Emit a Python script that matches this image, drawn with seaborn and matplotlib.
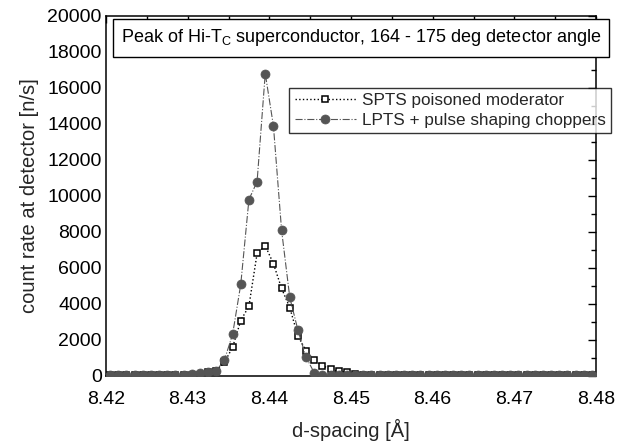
import matplotlib
matplotlib.use("Agg")
import matplotlib.pyplot as plt
import seaborn as sns
import pandas as pd
from matplotlib.ticker import MultipleLocator

# ---- data ----
d_spacing = [8.4205, 8.4215, 8.4225, 8.4235, 8.4245, 8.4255, 8.4265, 8.4275, 8.4285, 8.4295,
             8.4305, 8.4315, 8.4325, 8.4335, 8.4345, 8.4355, 8.4365, 8.4375, 8.4385, 8.4395,
             8.4405, 8.4415, 8.4425, 8.4435, 8.4445, 8.4455, 8.4465, 8.4475, 8.4485, 8.4495,
             8.4505, 8.4515, 8.4525, 8.4535, 8.4545, 8.4555, 8.4565, 8.4575, 8.4585, 8.4595,
             8.4605, 8.4615, 8.4625, 8.4635, 8.4645, 8.4655, 8.4665, 8.4675, 8.4685, 8.4695,
             8.4705, 8.4715, 8.4725, 8.4735, 8.4745, 8.4755, 8.4765, 8.4775, 8.4785, 8.4795]

spts = [30, 30, 30, 30, 30, 30, 30, 30, 30, 30,
        30, 80, 220, 280, 760, 1590, 3080, 3880, 6810, 7240,
        6240, 4870, 3800, 2220, 1400, 870, 580, 370, 260, 220,
        120, 30, 30, 30, 30, 30, 30, 30, 30, 30,
        30, 30, 30, 30, 30, 30, 30, 30, 30, 30,
        30, 30, 30, 30, 30, 30, 30, 30, 30, 30]

lpts = [60, 60, 60, 60, 60, 60, 60, 60, 60, 60,
        110, 150, 220, 290, 890, 2310, 5090, 9800, 10800, 16800,
        13900, 8100, 4370, 2550, 1040, 180, 60, 60, 60, 60,
        60, 60, 60, 60, 60, 60, 60, 60, 60, 60,
        60, 60, 60, 60, 60, 60, 60, 60, 60, 60,
        60, 60, 60, 60, 60, 60, 60, 60, 60, 60]

label_spts = "SPTS poisoned moderator"
label_lpts = "LPTS + pulse shaping choppers"
title_text = "Peak of Hi-T$_\\mathrm{C}$ superconductor, 164 - 175 deg detector angle"
xlabel = "d-spacing [Å]"
ylabel = "count rate at detector [n/s]"
xticks = [8.42, 8.43, 8.44, 8.45, 8.46, 8.47, 8.48]
yticks = [0, 2000, 4000, 6000, 8000, 10000, 12000, 14000, 16000, 18000, 20000]

df = pd.DataFrame({"d": d_spacing, "spts": spts, "lpts": lpts})

sns.set_theme(style="white")
plt.rcParams["font.family"] = ["Liberation Sans", "DejaVu Sans"]
plt.rcParams["mathtext.fontset"] = "custom"
plt.rcParams["mathtext.rm"] = "Liberation Sans"
plt.rcParams["mathtext.it"] = "Liberation Sans:italic"

fig = plt.figure(figsize=(6.18, 4.43), dpi=100)
ax = fig.add_axes([106 / 618, 1 - 376 / 443, 490 / 618, 360 / 443])

sns.lineplot(data=df, x="d", y="spts", ax=ax, color="black", linestyle=":",
             linewidth=1.0, marker="s", markersize=5, markerfacecolor="white",
             markeredgecolor="black", markeredgewidth=1.1, label=label_spts, zorder=2)
sns.lineplot(data=df, x="d", y="lpts", ax=ax, color="#555555", linestyle="-.",
             linewidth=0.8, marker="o", markersize=6.5, markerfacecolor="#555555",
             markeredgecolor="#555555", markeredgewidth=0.5, label=label_lpts, zorder=3)

ax.set_xlim(8.42, 8.48)
ax.set_ylim(0, 20000)
ax.set_xticks(xticks)
ax.set_xticklabels([f"{v:.2f}" for v in xticks])
ax.set_yticks(yticks)
ax.set_yticklabels([str(v) for v in yticks])
ax.xaxis.set_minor_locator(MultipleLocator(0.005))
ax.yaxis.set_minor_locator(MultipleLocator(1000))
ax.tick_params(axis="both", which="both", direction="in", top=True, right=True,
               labelsize=14, colors="black", width=1.0)
ax.tick_params(axis="x", which="major", length=5, pad=11)
ax.tick_params(axis="x", which="minor", length=5)
ax.tick_params(axis="y", which="major", length=6, pad=3)
ax.tick_params(axis="y", which="minor", length=3.5)
for s in ax.spines.values():
    s.set_color("black")
    s.set_linewidth(1.1)

ax.set_xlabel(xlabel, fontsize=14.5, labelpad=8)
ax.set_ylabel(ylabel, fontsize=14.5, labelpad=6)

leg = ax.legend(loc="upper right", bbox_to_anchor=(611 / 618, 1 - 88 / 443),
                bbox_transform=fig.transFigure, frameon=True, fancybox=False,
                fontsize=12.3, handlelength=3.6, handletextpad=0.35,
                borderpad=0.3, labelspacing=0.3, borderaxespad=0)
leg.get_frame().set_edgecolor("black")
leg.get_frame().set_linewidth(1.0)
leg.set_zorder(10)

fig.text(121 / 618, 1 - 38 / 443, title_text, ha="left", va="center", fontsize=13.0,
         color="black", zorder=20,
         bbox=dict(boxstyle="square,pad=0.45", facecolor="white", edgecolor="black",
                   linewidth=1.0))

fig.savefig("out.png", dpi=100)
